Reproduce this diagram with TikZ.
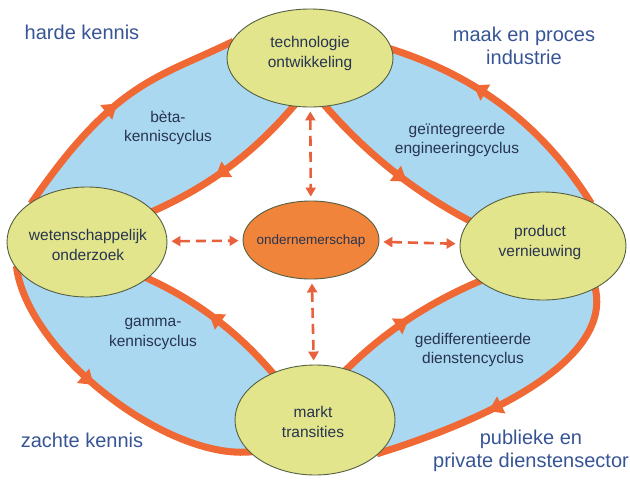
\documentclass[tikz,border=0pt]{standalone}
\usepackage{fontspec}
\setmainfont{Liberation Sans}
\usetikzlibrary{shapes.geometric,arrows.meta,decorations.markings,backgrounds}
\definecolor{arccol}{RGB}{240,104,52}
\definecolor{lensblue}{RGB}{170,216,240}
\definecolor{yelcol}{RGB}{226,229,140}
\definecolor{edgecol}{RGB}{85,95,65}
\definecolor{ondcol}{RGB}{240,132,58}
\definecolor{dashcol}{RGB}{232,96,60}
\definecolor{txtcol}{RGB}{40,52,80}
\definecolor{cornercol}{RGB}{55,85,150}
\begin{document}
\begin{tikzpicture}[x=1pt,y=-1pt,
  cyc/.style={draw=arccol, line width=7pt, shorten <=-3pt, shorten >=-3pt},
  arrowat/.style={postaction={decorate, decoration={markings,
      mark=at position #1 with {\arrow{Triangle[length=14pt,width=18pt]}}}}},
  revarrowat/.style={postaction={decorate, decoration={markings,
      mark=at position #1 with {\arrowreversed{Triangle[length=14pt,width=18pt]}}}}},
  lens/.style={fill=lensblue},
  yel/.style={ellipse, draw=edgecol, line width=0.9pt, fill=yelcol, inner sep=0pt},
  ondnode/.style={ellipse, draw=edgecol, line width=0.9pt, fill=ondcol, inner sep=0pt},
  dasharrow/.style={draw=dashcol, line width=2.6pt, dash pattern=on 10pt off 6pt,
      {Triangle[length=9pt,width=10pt]}-{Triangle[length=9pt,width=10pt]},
      shorten <=4pt, shorten >=4pt},
  nodetxt/.style={font=\fontsize{15.5}{20}\selectfont, text=txtcol, align=center, inner sep=0pt},
  ondtxt/.style={font=\fontsize{13.5}{16}\selectfont, text=txtcol, align=center, inner sep=0pt},
  cyctxt/.style={font=\fontsize{15.5}{19.5}\selectfont, text=txtcol, align=center, inner sep=0pt},
  corner/.style={font=\fontsize{20}{23}\selectfont, text=cornercol, align=center, inner sep=0pt}]
\path[use as bounding box] (0,0) rectangle (630,485);

% nodes
\node[yel, minimum width=166pt, minimum height=98pt] (tech) at (310,58) {};
\node[yel, minimum width=160pt, minimum height=110pt] (wet) at (87,242) {};
\node[yel, minimum width=166pt, minimum height=108pt] (prod) at (543,246) {};
\node[yel, minimum width=160pt, minimum height=110pt] (markt) at (315,420) {};
\node[ondnode, minimum width=136pt, minimum height=78pt] (onder) at (311,240) {};

\begin{pgfonlayer}{background}
\fill[white] (0,0) rectangle (630,485);
% beta cycle
\fill[lens] (wet.143) .. controls (115,81) and (158,78) .. (tech.169)
  -- (tech.251) .. controls (255,152) and (210,186) .. (wet.25) -- cycle;
\draw[cyc, arrowat=0.5] (wet.143) .. controls (115,81) and (158,78) .. (tech.169);
\draw[cyc, arrowat=0.6] (tech.251) .. controls (255,152) and (210,186) .. (wet.25);
% engineering cycle
\fill[lens] (tech.6) .. controls (477,76) and (543,126) .. (prod.44)
  -- (prod.161) .. controls (414.5,192) and (366.5,153.7) .. (tech.288) -- cycle;
\draw[cyc, revarrowat=0.35] (tech.6) .. controls (477,76) and (543,126) .. (prod.44);
\draw[cyc, arrowat=0.6] (tech.288) .. controls (366.5,153.7) and (414.5,192) .. (prod.161);
% gamma cycle
\fill[lens] (wet.201) .. controls (27,352) and (167,461) .. (markt.206)
  -- (markt.132) .. controls (238,332) and (196,300) .. (wet.329) -- cycle;
\draw[cyc, arrowat=0.45] (wet.201) .. controls (27,352) and (167,461) .. (markt.206);
\draw[cyc, revarrowat=0.45] (wet.329) .. controls (196,300) and (238,332) .. (markt.132);
% diensten cycle
\fill[lens] (markt.58) .. controls (385,331) and (430,302) .. (prod.209)
  -- (prod.321) .. controls (615,359) and (490,419) .. (markt.333) -- cycle;
\draw[cyc, arrowat=0.5] (markt.58) .. controls (385,331) and (430,302) .. (prod.209);
\draw[cyc, arrowat=0.6] (prod.321) .. controls (615,359) and (490,419) .. (markt.333);
\end{pgfonlayer}

% dashed connectors
\draw[dasharrow] (tech) -- (onder);
\draw[dasharrow] (wet) -- (onder);
\draw[dasharrow] (onder) -- (prod);
\draw[dasharrow] (onder) -- (markt);

% node texts
\node[nodetxt] (techt) at (310,53) {technologie\\ontwikkeling};
\node[nodetxt] (wett) at (88,245) {wetenschappelijk\\onderzoek};
\node[nodetxt] (prodt) at (540,242) {product\\vernieuwing};
\node[nodetxt] (marktt) at (313,422) {markt\\transities};
\node[ondtxt] (ondt) at (311,241) {ondernemerschap};

% cycle labels
\node[cyctxt] (betat) at (168,128) {bèta-\\kenniscyclus};
\node[cyctxt] (engt) at (457,140) {geïntegreerde\\engineeringcyclus};
\node[cyctxt] (gamt) at (153,334) {gamma-\\kenniscyclus};
\node[cyctxt] (dient) at (473,350) {gedifferentieerde\\dienstencyclus};

% corner labels
\node[corner] (hk) at (82,32) {harde kennis};
\node[corner] (mp) at (524,46) {maak en proces\\industrie};
\node[corner] (zk) at (82,440) {zachte kennis};
\node[corner] (pd) at (531,451) {publieke en\\private dienstensector};
\end{tikzpicture}
\end{document}
